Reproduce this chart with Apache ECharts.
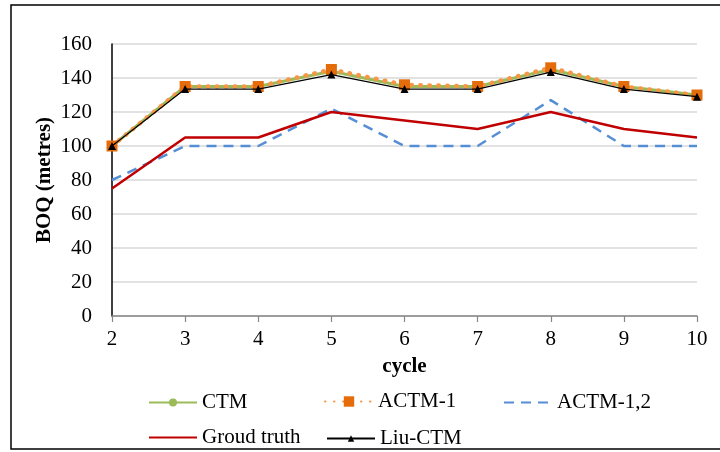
<!DOCTYPE html>
<html>
<head>
<meta charset="utf-8">
<script src="https://cdn.jsdelivr.net/npm/echarts@6/dist/echarts.min.js"></script>
<style>
  html, body { margin: 0; padding: 0; background: #fff; }
  #chart { width: 720px; height: 452px; }
</style>
</head>
<body>
<div id="chart"></div>
<script>
// BOQ per cycle for each method
const cycles = [2, 3, 4, 5, 6, 7, 8, 9, 10];
const ctm = [100, 135, 135, 144, 135, 135, 145, 135, 130];
const actm1 = [100, 135, 135, 145, 136, 135, 146, 135, 130];
const actm12 = [80, 100, 100, 122, 100, 100, 127, 100, 100];
const groundTruth = [75, 105, 105, 120, 115, 110, 120, 110, 105];
const liuCtm = [100, 133.5, 133.5, 142, 133.5, 133.5, 143.5, 133.5, 129];

const FONT = '"Liberation Serif", "Times New Roman", serif';

function pairs(values) {
  return cycles.map((c, i) => [c, values[i]]);
}

// One legend block per entry so every entry sits at its own spot;
// markerless series hide the marker the legend would otherwise draw.
function legendAt(name, left, top, markSize, hideMark) {
  const lg = {
    data: [name],
    left: left,
    top: top,
    orient: 'horizontal',
    itemWidth: 48,
    itemHeight: markSize,
    selectedMode: false,
    textStyle: { fontFamily: FONT, fontSize: 21, color: '#000' }
  };
  if (hideMark) lg.itemStyle = { opacity: 0 };
  return lg;
}

const chart = echarts.init(document.getElementById('chart'), null, { renderer: 'canvas' });

chart.setOption({
  animation: false,
  backgroundColor: '#fff',
  graphic: [{
    type: 'rect',
    shape: { x: 11, y: 5, width: 730, height: 444 },
    style: { fill: 'none', stroke: '#000', lineWidth: 1.5 },
    z: 100
  }],
  grid: { left: 112, right: 23, top: 44, bottom: 136, containLabel: false },
  legend: [
    legendAt('CTM', 143, 387, 10, false),
    legendAt('ACTM-1', 319, 386, 13, false),
    legendAt('ACTM-1,2', 498, 387, 10, true),
    legendAt('Groud truth', 143, 422, 10, true),
    legendAt('Liu-CTM', 321, 423, 8, false)
  ],
  xAxis: {
    type: 'value',
    min: 2,
    max: 10,
    interval: 1,
    name: 'cycle',
    nameLocation: 'middle',
    nameGap: 40,
    nameTextStyle: { fontFamily: FONT, fontSize: 21, fontWeight: 'bold', color: '#000' },
    axisLine: { show: true, onZero: false, lineStyle: { color: '#868686', width: 1.5 } },
    axisTick: { show: true, inside: false, length: 6, lineStyle: { color: '#868686', width: 1.2 } },
    axisLabel: { margin: 13, fontFamily: FONT, fontSize: 21, color: '#000' },
    splitLine: { show: false }
  },
  yAxis: {
    type: 'value',
    min: 0,
    max: 160,
    interval: 20,
    name: 'BOQ (metres)',
    nameLocation: 'middle',
    nameGap: 57,
    nameMoveOverlap: false,
    nameRotate: 90,
    nameTextStyle: { fontFamily: FONT, fontSize: 21, fontWeight: 'bold', color: '#000' },
    axisLine: { show: true, lineStyle: { color: '#000', width: 1.5 } },
    axisTick: { show: false },
    axisLabel: { margin: 20, fontFamily: FONT, fontSize: 21, color: '#000' },
    splitLine: { show: true, lineStyle: { color: '#D9D9D9', width: 1.5 } }
  },
  series: [
    {
      name: 'CTM',
      type: 'line',
      data: pairs(ctm),
      symbol: 'circle',
      symbolSize: 8,
      itemStyle: { color: '#9BBB59' },
      lineStyle: { color: '#9BBB59', width: 3 },
      z: 2
    },
    {
      name: 'ACTM-1',
      type: 'line',
      data: pairs(actm1),
      symbol: 'rect',
      symbolSize: 11,
      itemStyle: { color: '#E46C0A' },
      lineStyle: { color: '#F79646', width: 4.5, type: [0.5, 8.5], cap: 'round' },
      z: 3
    },
    {
      name: 'ACTM-1,2',
      type: 'line',
      data: pairs(actm12),
      symbol: 'none',
      itemStyle: { color: '#558ED5' },
      lineStyle: { color: '#558ED5', width: 2.5, type: [10, 7] },
      z: 4
    },
    {
      name: 'Groud truth',
      type: 'line',
      data: pairs(groundTruth),
      symbol: 'none',
      itemStyle: { color: '#C00000' },
      lineStyle: { color: '#C00000', width: 2.5 },
      z: 5
    },
    {
      name: 'Liu-CTM',
      type: 'line',
      data: pairs(liuCtm),
      symbol: 'triangle',
      symbolSize: 8,
      itemStyle: { color: '#000' },
      lineStyle: { color: '#000', width: 1.2 },
      z: 6
    }
  ]
});
</script>
</body>
</html>
